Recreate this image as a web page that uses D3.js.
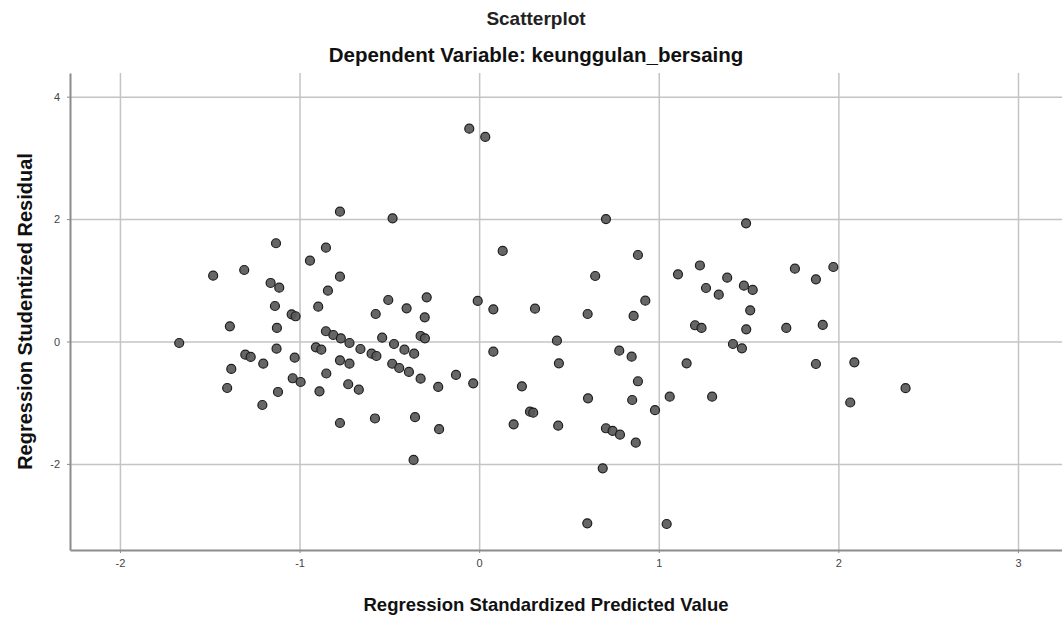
<!DOCTYPE html>
<html>
<head>
<meta charset="utf-8">
<script src="https://cdn.jsdelivr.net/npm/d3@7"></script>
<style>
  body { margin: 0; background: #fff; }
  svg { display: block; font-family: "Liberation Sans", Arial, sans-serif; }
</style>
</head>
<body>
<svg id="chart" width="1062" height="619"></svg>
<script>
// Values
const chartTitle = 'Scatterplot';
const chartSubtitle = 'Dependent Variable: keunggulan_bersaing';
const xLabel = 'Regression Standardized Predicted Value';
const yLabel = 'Regression Studentized Residual';

const xTicks = [-2, -1, 0, 1, 2, 3];
const yTicks = [-2, 0, 2, 4];

const predicted = [
  -1.131, -0.853, -0.942, -1.481, -1.308, -1.161, -1.113, -0.775, -0.842, -1.137,
  -0.896, -1.044, -1.022, -1.388, -1.126, -0.853, -0.812, -0.770, -1.670, -1.128,
  -0.909, -0.879, -1.302, -1.272, -1.027, -1.202, -0.775, -1.380, -0.851, -1.038,
  -0.994, -1.403, -1.120, -0.889, -1.207, -0.775,
  -0.775, -0.482, -0.506, -0.292, -0.576, -0.404, -0.303, -0.008, 0.079, -0.722,
  -0.661, -0.599, -0.572, -0.540, -0.474, -0.416, -0.362, -0.326, -0.302, 0.079,
  -0.722, -0.484, -0.445, -0.391, -0.326, -0.729, -0.670, -0.228, -0.129, -0.033,
  -0.580, -0.357, -0.223, -0.365,
  -0.055, 0.034,
  0.706, 0.131, 0.884, 0.646, 1.107, 0.311, 0.604, 0.925, 0.860, 0.433,
  0.780, 0.849, 0.444, 1.155, 0.238, 0.884, 0.606, 0.852, 1.061, 0.979,
  0.283, 0.301, 0.192, 0.440, 0.706, 0.743, 0.784, 0.872, 0.688, 0.602,
  1.044,
  1.486, 1.229, 1.381, 1.263, 1.334, 1.474, 1.523, 1.509, 1.758, 1.875,
  1.972, 1.202, 1.238, 1.487, 1.710, 1.913, 1.413, 1.463, 1.875, 2.089,
  2.374, 1.297, 2.066
];

const residual = [
  1.605, 1.533, 1.320, 1.075, 1.168, 0.956, 0.879, 1.059, 0.830, 0.580,
  0.569, 0.444, 0.412, 0.248, 0.221, 0.167, 0.106, 0.052, -0.025, -0.118,
  -0.095, -0.134, -0.216, -0.253, -0.265, -0.363, -0.307, -0.449, -0.523, -0.601,
  -0.662, -0.760, -0.825, -0.814, -1.038, -1.332,
  2.121, 2.013, 0.678, 0.722, 0.449, 0.542, 0.395, 0.662, 0.526, -0.025,
  -0.123, -0.199, -0.237, 0.062, -0.041, -0.134, -0.199, 0.090, 0.052, -0.167,
  -0.363, -0.364, -0.433, -0.498, -0.608, -0.699, -0.788, -0.743, -0.547, -0.683,
  -1.258, -1.237, -1.433, -1.936,
  3.477, 3.342,
  2.000, 1.479, 1.413, 1.070, 1.098, 0.536, 0.449, 0.667, 0.417, 0.013,
  -0.150, -0.248, -0.356, -0.356, -0.732, -0.650, -0.928, -0.956, -0.902, -1.123,
  -1.147, -1.163, -1.353, -1.376, -1.418, -1.462, -1.523, -1.654, -2.072, -2.971,
  -2.982,
  1.931, 1.242, 1.042, 0.874, 0.765, 0.912, 0.842, 0.510, 1.190, 1.016,
  1.217, 0.265, 0.221, 0.199, 0.221, 0.270, -0.041, -0.111, -0.368, -0.340,
  -0.763, -0.902, -0.997
];

const points = predicted.map((x, i) => ({ x, y: residual[i] }));

// plot box (the right side runs off the picture like the original)
const plot = { left: 70, top: 73, right: 1062, bottom: 550 };

const x = d3.scaleLinear().domain([-2.278, 3.245]).range([plot.left, plot.right]);
const y = d3.scaleLinear().domain([-3.407, 4.387]).range([plot.bottom, plot.top]);

const svg = d3.select('#chart');

// gridlines
svg.append('g')
  .attr('transform', `translate(0,${plot.bottom})`)
  .call(d3.axisBottom(x).tickValues(xTicks).tickSize(-(plot.bottom - plot.top)).tickFormat(''))
  .call(g => g.select('.domain').remove())
  .call(g => g.selectAll('line').attr('stroke', '#c4c4c4').attr('stroke-width', 1.5));

svg.append('g')
  .attr('transform', `translate(${plot.left},0)`)
  .call(d3.axisLeft(y).tickValues(yTicks).tickSize(-(plot.right - plot.left)).tickFormat(''))
  .call(g => g.select('.domain').remove())
  .call(g => g.selectAll('line').attr('stroke', '#c4c4c4').attr('stroke-width', 1.5));

// axes with labels (plain hyphen for negatives, as SPSS prints them)
const xAxis = svg.append('g')
  .attr('transform', `translate(0,${plot.bottom})`)
  .call(d3.axisBottom(x).tickValues(xTicks).tickSize(3).tickSizeOuter(0).tickPadding(6).tickFormat(d => String(d)));

const yAxis = svg.append('g')
  .attr('transform', `translate(${plot.left},0)`)
  .call(d3.axisLeft(y).tickValues(yTicks).tickSize(3).tickSizeOuter(0).tickPadding(7).tickFormat(d => String(d)));

[xAxis, yAxis].forEach(g => {
  g.select('.domain').attr('stroke', '#8c8c8c').attr('stroke-width', 2);
  g.selectAll('.tick line').attr('stroke', '#8c8c8c');
  g.selectAll('.tick text')
    .attr('fill', '#444')
    .style('font-size', '11px')
    .style('font-family', '"Liberation Sans", Arial, sans-serif');
});

// points
svg.append('g')
  .selectAll('circle')
  .data(points)
  .join('circle')
  .attr('cx', d => x(d.x))
  .attr('cy', d => y(d.y))
  .attr('r', 4.5)
  .attr('fill', '#595959')
  .attr('fill-opacity', 0.92)
  .attr('stroke', '#1e1e1e')
  .attr('stroke-width', 1.2);

// titles
svg.append('text')
  .attr('x', 536).attr('y', 25)
  .attr('text-anchor', 'middle')
  .attr('font-weight', 'bold')
  .attr('font-size', 19)
  .attr('fill', '#222')
  .text(chartTitle);

svg.append('text')
  .attr('x', 536).attr('y', 62)
  .attr('text-anchor', 'middle')
  .attr('font-weight', 'bold')
  .attr('font-size', 20.5)
  .attr('fill', '#111')
  .text(chartSubtitle);

svg.append('text')
  .attr('x', 546).attr('y', 611)
  .attr('text-anchor', 'middle')
  .attr('font-weight', 'bold')
  .attr('font-size', 18.5)
  .attr('fill', '#111')
  .text(xLabel);

svg.append('text')
  .attr('transform', `translate(32,${(plot.top + plot.bottom) / 2}) rotate(-90)`)
  .attr('text-anchor', 'middle')
  .attr('font-weight', 'bold')
  .attr('font-size', 20)
  .attr('fill', '#111')
  .text(yLabel);
</script>
</body>
</html>
